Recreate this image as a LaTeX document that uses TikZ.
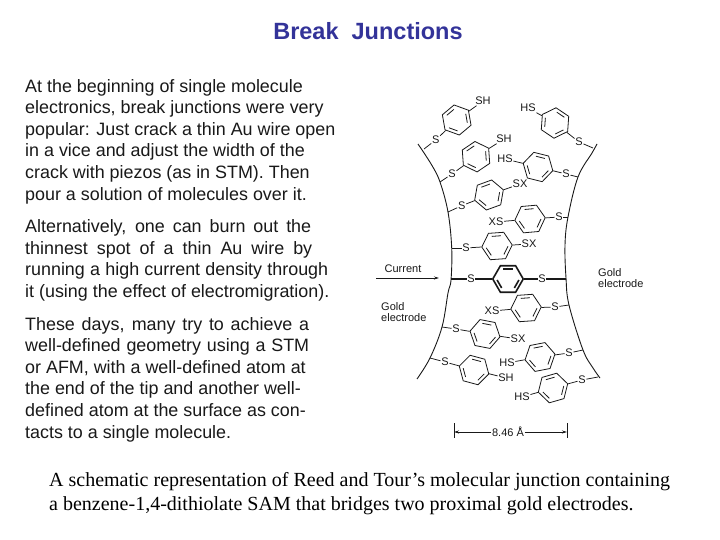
\documentclass[tikz,border=0pt]{standalone}
\usepackage{fontspec}
\setmainfont{Liberation Sans}
\newfontfamily\timesf{Liberation Serif}
\definecolor{titleblue}{RGB}{51,51,153}
\definecolor{ink}{RGB}{25,25,25}
\usetikzlibrary{shapes.geometric,arrows.meta}
\tikzset{
  para/.style={anchor=north west,align=left,inner sep=0pt,font=\fontsize{17.9}{21.6}\selectfont,text=ink},
  lab/.style={inner sep=0.6pt,font=\fontsize{11}{11}\selectfont,text=ink},
  small/.style={inner sep=0pt,align=left,font=\fontsize{11}{11.5}\selectfont,text=ink},
  bond/.style={draw=ink,line width=0.75pt},
  ringbox/.style={regular polygon,regular polygon sides=6,minimum size=30.5pt,inner sep=0pt,draw=ink,line width=0.8pt},
}
\newcommand{\jl}[2]{\makebox[#1pt][s]{#2}}
% name, x, y, rotation, line width
\newcommand{\ringat}[5]{%
  \node[ringbox,line width=#5,shape border rotate=#4] (#1) at (#2,#3) {};
  \foreach \k in {1,3,5}{
    \draw[ink,line width=#5,shift={(#1.center)},rotate=#4,shorten >=1.2pt,shorten <=1.2pt]
      (60*\k:11.5pt) -- (60*\k+60:11.5pt);
  }%
}
% name suffix, electrode (x,y), S (x,y), ring (x,y,rot), end label (x,y,text)
\newcommand{\mol}[9]{%
  \coordinate (e#1) at (#2);
  \node[lab] (s#1) at (#3) {S};
  \ringat{r#1}{#4}{#5}{#6}{0.8pt}
  \node[lab] (t#1) at (#7,#8) {#9};
  \draw[bond] (e#1) -- (s#1);
  \draw[bond] (s#1) -- (r#1);
  \draw[bond] (r#1) -- (t#1);
}
\begin{document}
\begin{tikzpicture}[x=1pt,y=-1pt]
\useasboundingbox (0,0) rectangle (720,540);
\fill[white] (0,0) rectangle (720,540);
\node[inner sep=0pt,font=\bfseries\fontsize{23.5}{26}\selectfont,text=titleblue] (title) at (368,31) {Break\ \ Junctions};
\node[para] (p1) at (25,79) {At the beginning of single molecule\\electronics, break junctions were very\\popular: Just crack a thin Au wire open\\in a vice and adjust the width of the\\crack with piezos (as in STM). Then\\pour a solution of molecules over it.};
\node[para] (p2) at (25,219.5) {\jl{286}{Alternatively, one can burn out the}\\\jl{287}{thinnest spot of a thin Au wire by}\\\jl{303}{running a high current density through}\\it (using the effect of electromigration).};
\node[para] (p3) at (25,317) {\jl{284}{These days, many try to achieve a}\\\jl{284}{well-defined geometry using a STM}\\or AFM, with a well-defined atom at\\the end of the tip and another well-\\defined atom at the surface as con-\\tacts to a single molecule.};
\node[anchor=north west,align=left,inner sep=0pt,font=\timesf\fontsize{20}{24}\selectfont,text=black] (cap) at (49,472.5) {A schematic representation of Reed and Tour’s molecular junction containing\\a benzene-1,4-dithiolate SAM that bridges two proximal gold electrodes.};
% electrodes
\draw[ink,line width=0.9pt] plot[smooth,tension=0.6] coordinates {(418,144) (431.7,165) (440,182) (448,212) (451.7,248) (451,280) (448,293) (442,327) (430,358) (417,379)};
\draw[ink,line width=0.9pt] plot[smooth,tension=0.6] coordinates {(597,144) (592,153) (578,177) (568,217) (565,245) (566,278) (569,305) (583,350) (593,368) (600,378)};
% molecules
\mol{a}{424,149}{435.7,140}{456.7}{120}{40}{483}{101}{SH}
\mol{b}{440,182}{452,174}{476}{156.7}{34}{504}{139}{SH}
\mol{c}{448,212}{461.7,205.7}{489}{195}{20}{520}{184}{SX}
\mol{d}{452,248}{466,248}{497}{246}{4}{529}{244}{SX}
\mol{e}{593,148}{579,142}{555}{123}{-34}{528}{108}{HS}
\mol{f}{578,177}{566,174}{538}{167}{-14}{505}{159}{HS}
\mol{g}{568,217}{559,217}{530}{219}{5}{496}{222}{XS}
\mol{h}{569,305}{555,307}{526}{308}{4}{492}{311}{XS}
\mol{i}{442,327}{456,329}{485}{334}{-11}{518}{339}{SX}
\mol{j}{430,358}{445,362}{474}{370}{-15}{506}{378}{SH}
\mol{k}{583,350}{569,353}{540}{357}{11}{507}{363}{HS}
\mol{l}{598,377}{582,380}{553}{388}{16}{522}{397}{HS}
% central molecule
\coordinate (el) at (451,279);
\coordinate (er) at (566,279);
\node[lab] (sl) at (471,279) {S};
\node[lab] (sr) at (542,279) {S};
\ringat{rc}{508}{279}{0}{1.6pt}
\draw[ink,line width=1.6pt] (el) -- (sl);
\draw[ink,line width=1.6pt] (sl) -- (rc);
\draw[ink,line width=1.6pt] (rc) -- (sr);
\draw[ink,line width=1.6pt] (sr) -- (er);
% labels
\node[small] (cur) at (403,269) {Current};
\coordinate (ca) at (376,278);
\coordinate (cb) at (439,278);
\draw[bond,-{Stealth[length=5pt,width=3pt]}] (ca) -- (cb);
\node[small,anchor=west] (gr) at (598,278) {Gold\\electrode};
\node[small,anchor=west] (gl) at (381,312) {Gold\\electrode};
% dimension
\node[lab,font=\fontsize{11}{12}\selectfont] (dim) at (508,432) {8.46 Å};
\coordinate (dl) at (454,432);
\coordinate (dr) at (567,432);
\draw[bond,-{Stealth[length=5pt,width=3pt]}] (dim) -- (dl);
\draw[bond,-{Stealth[length=5pt,width=3pt]}] (dim) -- (dr);
\draw[bond] (454,423) -- (454,438);
\draw[bond] (567,423) -- (567,438);
\end{tikzpicture}
\end{document}
